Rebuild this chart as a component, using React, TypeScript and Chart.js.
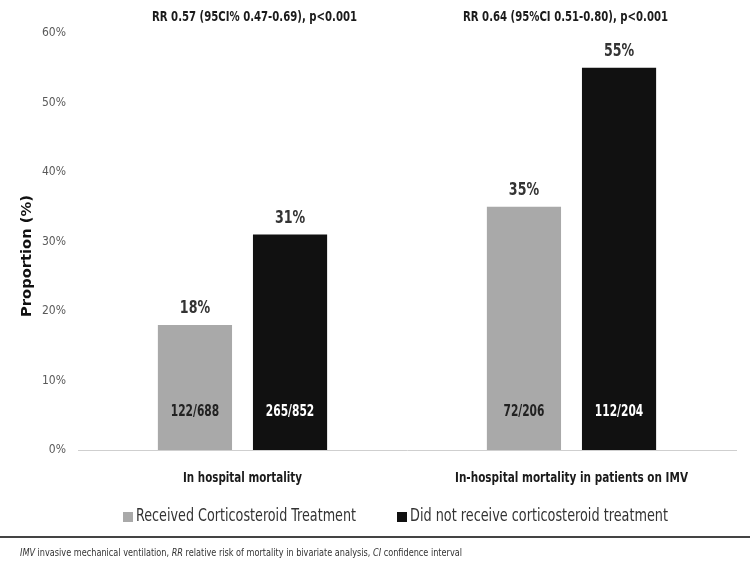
import React, { useEffect, useRef } from "react";
import { Chart, registerables } from "chart.js";

Chart.register(...registerables);

const categories = ["In hospital mortality", "In-hospital mortality in patients on IMV"];
const seriesNames = ["Received Corticosteroid Treatment", "Did not receive corticosteroid treatment"];
const receivedValues = [18, 35];
const notReceivedValues = [31, 55];
const receivedCounts = ["122/688", "72/206"];
const notReceivedCounts = ["265/852", "112/204"];
const rrLabels = ["RR 0.57 (95CI% 0.47-0.69), p<0.001", "RR 0.64 (95%CI 0.51-0.80), p<0.001"];
const yAxisTitle = "Proportion (%)";
const yMax = 60;
const yStep = 10;
const footnoteParts = [
  { text: "IMV", italic: true },
  { text: " invasive mechanical ventilation, ", italic: false },
  { text: "RR", italic: true },
  { text: " relative risk of mortality in bivariate analysis, ", italic: false },
  { text: "CI", italic: true },
  { text: " confidence interval", italic: false },
];

const NARROW = "'Liberation Sans Narrow', 'DejaVu Sans Condensed', 'Roboto', sans-serif";
const GRAY = "#a9a9a9";
const BLACK = "#111111";
const seriesColors = [GRAY, BLACK];
const countsBySeries = [receivedCounts, notReceivedCounts];

// horizontally condensed text: keep height, squeeze width by factor
function squeezed(ctx: CanvasRenderingContext2D, text: string, x: number, y: number, factor: number) {
  ctx.save();
  ctx.translate(x, y);
  ctx.scale(factor, 1);
  ctx.fillText(text, 0, 0);
  ctx.restore();
}

const annotPlugin = {
  id: "annot",
  afterDatasetsDraw(chart: any) {
    const ctx: CanvasRenderingContext2D = chart.ctx;
    const xs = chart.scales.x;
    ctx.save();

    // RR annotations
    ctx.font = "bold 14px " + NARROW;
    ctx.fillStyle = "#1a1a1a";
    ctx.textAlign = "center";
    ctx.textBaseline = "middle";
    rrLabels.forEach((t, i) => {
      const w = ctx.measureText(t).width;
      squeezed(ctx, t, xs.getPixelForValue(i) + (i === 0 ? 12 : -6), 17, 205 / w);
    });

    // category labels under axis
    ctx.font = "bold 14px " + NARROW;
    ctx.fillStyle = "#1a1a1a";
    const catWidths = [119, 233];
    categories.forEach((c, i) => {
      const w = ctx.measureText(c).width;
      squeezed(ctx, c, xs.getPixelForValue(i), 478, catWidths[i] / w);
    });

    // bar labels
    chart.data.datasets.forEach((ds: any, di: number) => {
      const meta = chart.getDatasetMeta(di);
      meta.data.forEach((bar: any, i: number) => {
        const p = bar.getProps(["x", "y", "base"], true);
        ctx.font = "bold 18px " + NARROW;
        ctx.fillStyle = "#333333";
        ctx.textAlign = "center";
        ctx.textBaseline = "alphabetic";
        squeezed(ctx, ds.data[i] + "%", p.x, p.y - 12, 0.78);
        ctx.font = "bold 16px " + NARROW;
        ctx.fillStyle = di === 0 ? "#222222" : "#ffffff";
        ctx.textBaseline = "middle";
        squeezed(ctx, countsBySeries[di][i], p.x, p.base - 38, 0.74);
      });
    });

    // y-axis title
    ctx.save();
    ctx.translate(27, 256);
    ctx.rotate(-Math.PI / 2);
    ctx.font = "bold 14px 'DejaVu Sans', sans-serif";
    ctx.fillStyle = "#111111";
    ctx.textAlign = "center";
    ctx.textBaseline = "middle";
    const tw = ctx.measureText(yAxisTitle).width;
    ctx.scale(122 / tw, 1);
    ctx.fillText(yAxisTitle, 0, 0);
    ctx.restore();

    // legend
    const legendX = [123, 397];
    const legendW = [220, 258];
    ctx.font = "17px " + NARROW;
    ctx.textAlign = "left";
    ctx.textBaseline = "middle";
    seriesNames.forEach((name, i) => {
      ctx.fillStyle = seriesColors[i];
      ctx.fillRect(legendX[i], 512, 10, 10);
      ctx.fillStyle = "#333333";
      const w = ctx.measureText(name).width;
      squeezed(ctx, name, legendX[i] + 13, 517, legendW[i] / w);
    });

    // separator line
    ctx.strokeStyle = "#444444";
    ctx.lineWidth = 2;
    ctx.beginPath();
    ctx.moveTo(0, 537);
    ctx.lineTo(chart.width, 537);
    ctx.stroke();

    // footnote
    ctx.fillStyle = "#333333";
    ctx.textBaseline = "middle";
    let total = 0;
    footnoteParts.forEach((part) => {
      ctx.font = (part.italic ? "italic " : "") + "11px " + NARROW;
      total += ctx.measureText(part.text).width;
    });
    const f = 442 / total;
    ctx.save();
    ctx.translate(20, 553);
    ctx.scale(f, 1);
    let fx = 0;
    footnoteParts.forEach((part) => {
      ctx.font = (part.italic ? "italic " : "") + "11px " + NARROW;
      ctx.fillText(part.text, fx, 0);
      fx += ctx.measureText(part.text).width;
    });
    ctx.restore();

    ctx.restore();
  },
};

export default function App() {
  const ref = useRef<HTMLCanvasElement>(null);

  useEffect(() => {
    if (!ref.current) return;
    const chart = new Chart(ref.current, {
      type: "bar",
      data: {
        labels: categories,
        datasets: [
          {
            label: seriesNames[0],
            data: receivedValues,
            backgroundColor: GRAY,
            categoryPercentage: 0.578,
            barPercentage: 0.78,
          },
          {
            label: seriesNames[1],
            data: notReceivedValues,
            backgroundColor: BLACK,
            categoryPercentage: 0.578,
            barPercentage: 0.78,
          },
        ],
      },
      options: {
        responsive: false,
        animation: false,
        layout: { padding: { left: 0, top: 33, right: 14, bottom: 0 } },
        plugins: {
          legend: { display: false },
          tooltip: { enabled: false },
          title: { display: false },
        },
        scales: {
          x: {
            grid: { display: false, drawTicks: false },
            border: { display: true, color: "#cfcfcf", width: 1 },
            ticks: { display: false },
            afterFit(scale: any) {
              scale.height = 120;
            },
          },
          y: {
            min: 0,
            max: yMax,
            grid: { display: false, drawTicks: false },
            border: { display: false },
            ticks: {
              stepSize: yStep,
              padding: 12,
              color: "#595959",
              font: { family: NARROW, size: 12 },
              callback: (v: any) => v + "%",
            },
            afterFit(scale: any) {
              scale.width = 78;
            },
          },
        },
      },
      plugins: [annotPlugin],
    });
    return () => chart.destroy();
  }, []);

  return (
    <div style={{ position: "absolute", left: 0, top: 0, width: 750, height: 570, background: "#ffffff" }}>
      <canvas ref={ref} width={750} height={570} />
    </div>
  );
}
